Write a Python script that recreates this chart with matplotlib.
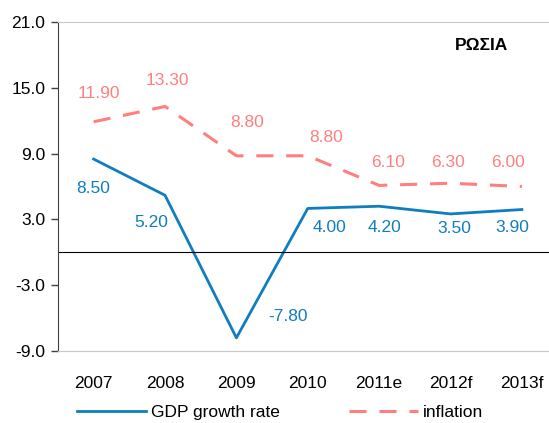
import numpy as np
import matplotlib
matplotlib.use('Agg')
import matplotlib.pyplot as plt

plt.rcParams['font.family'] = ['Liberation Sans', 'DejaVu Sans']

years = ['2007', '2008', '2009', '2010', '2011e', '2012f', '2013f']
gdp = [8.5, 5.2, -7.8, 4.0, 4.2, 3.5, 3.9]
inflation = [11.9, 13.3, 8.8, 8.8, 6.1, 6.3, 6.0]
yticks = [-9, -3, 3, 9, 15, 21]

blue = '#0F7DC0'
pink = '#FF7F7F'

# label offsets in pixels (dx, dy)
gdp_off = [(0, -29), (-14, -27), (52, 21), (22, -19), (5, -21), (4, -15), (-10, -18)]
inf_off = [(5, 28), (2, 26), (11, 33), (18, 18), (9, 23), (-3, 21), (-14, 24)]

fig = plt.figure(figsize=(5.49, 4.23), dpi=100)
ax = fig.add_axes([0.1056, 0.1702, 0.8944, 0.7778])
x = np.arange(len(years))

ax.plot(x, gdp, color=blue, lw=2.0, label='GDP growth rate')
ax.plot(x, inflation, color=pink, lw=2.2, dashes=(5.6, 4.2), label='inflation')
ax.axhline(0, color='black', lw=0.8)

for i in range(len(years)):
    ax.annotate('%.2f' % gdp[i], (x[i], gdp[i]), xytext=gdp_off[i], textcoords='offset pixels',
                ha='center', va='center', color=blue, fontsize=12.5)
    ax.annotate('%.2f' % inflation[i], (x[i], inflation[i]), xytext=inf_off[i], textcoords='offset pixels',
                ha='center', va='center', color=pink, fontsize=12.5)

ax.set_xlim(-0.5, 6.38)
ax.set_ylim(-9, 21)
ax.set_yticks(yticks)
ax.set_yticklabels(['%.1f' % v for v in yticks], fontsize=12.5)
ax.set_xticks(x)
ax.set_xticklabels(years, fontsize=12.5)
ax.tick_params(axis='x', length=0, pad=18)
ax.tick_params(axis='y', length=5, width=1, color='#404040', pad=4)

ax.spines['right'].set_visible(False)
ax.spines['left'].set_color('#404040')
ax.spines['top'].set_color('#C8C8C8')
ax.spines['bottom'].set_color('#C8C8C8')

ax.text(0.862, 0.93, 'ΡΩΣΙΑ', transform=ax.transAxes, fontsize=12.5, fontweight='bold',
        ha='center', va='center')

fig.legend(loc='center', bbox_to_anchor=(0.51, 0.026), ncol=2, frameon=False, fontsize=12.5,
           handlelength=4.0, handletextpad=0.25, columnspacing=4.0)

fig.savefig('out.png', dpi=100)
